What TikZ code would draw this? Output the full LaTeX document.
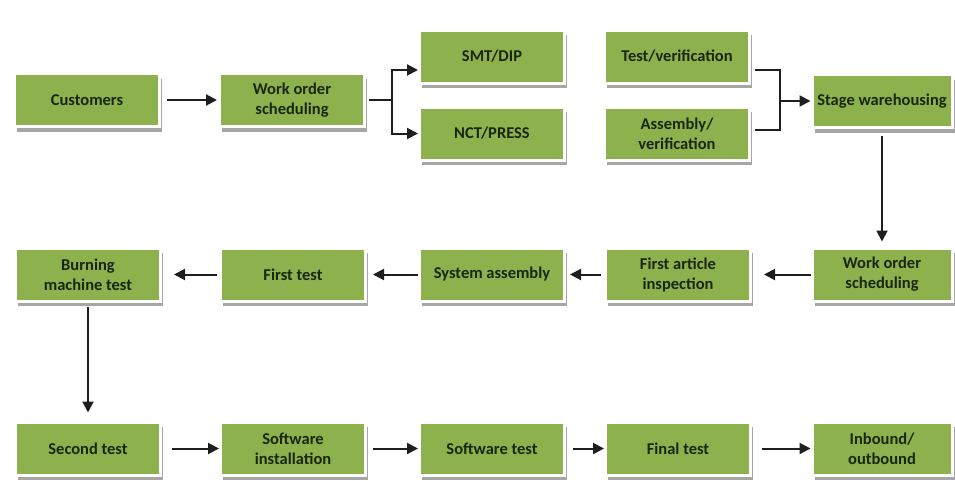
\documentclass[tikz,border=0pt]{standalone}
\usepackage{fontspec}
\setmainfont{Carlito}
\usetikzlibrary{arrows.meta,shadows}
\definecolor{boxgreen}{HTML}{8DB24D}
\definecolor{txtc}{HTML}{1A2610}
\definecolor{linec}{HTML}{1E1E1E}
\begin{document}
\begin{tikzpicture}[x=1pt,y=-1pt,
  box/.style={fill=boxgreen, draw=white, line width=3pt, minimum width=145pt, minimum height=53pt,
    inner sep=0pt, align=center, font=\fontsize{16.5}{20}\selectfont\bfseries, text=txtc,
    drop shadow={shadow xshift=2.5pt, shadow yshift=-5pt, fill=black!35, opacity=1}},
  lastbox/.style={box, minimum width=140pt},
  conn/.style={draw=linec, line width=2pt},
  arr/.style={conn, -{Triangle[length=11pt,width=11pt]}}]
\useasboundingbox (0,0) rectangle (955,480);
% row 1
\node[box] (cust) at (87,100) {Customers};
\node[box] (wos1) at (292,100) {Work order\\scheduling};
\node[box] (smt) at (492,56.5) {SMT/DIP};
\node[box] (nct) at (492,133.5) {NCT/PRESS};
\node[box] (testv) at (677,56.5) {Test/verification};
\node[box] (asmv) at (677,133.5) {Assembly/\\verification};
\node[lastbox] (stage) at (882,101) {Stage warehousing};
% row 2
\node[box] (burn) at (88,274.5) {Burning\\machine test};
\node[box] (first) at (293,274.5) {First test};
\node[box] (sysa) at (492,274.5) {System assembly};
\node[box] (fai) at (678,274.5) {First article\\inspection};
\node[lastbox] (wos2) at (882,274.5) {Work order\\scheduling};
% row 3
\node[box] (second) at (88,448.5) {Second test};
\node[box] (swinst) at (293,448.5) {Software\\installation};
\node[box] (swtest) at (492,448.5) {Software test};
\node[box] (final) at (678,448.5) {Final test};
\node[lastbox] (inout) at (882,448.5) {Inbound/\\outbound};
% connectors row 1
\draw[arr, shorten <=6pt, shorten >=1pt] (cust) -- (wos1);
\coordinate (s1) at (392,100);
\draw[conn, shorten <=3pt] (wos1.east) -- (s1);
\draw[arr] (s1) |- ([yshift=-13.5pt]smt.west);
\draw[arr] (s1) |- (nct.west);
\coordinate (j1) at (780,101);
\draw[conn] ([xshift=4pt,yshift=-13.5pt]testv.east) -| (j1);
\draw[conn] ([xshift=4pt,yshift=3.5pt]asmv.east) -| (j1);
\draw[arr] (j1) -- (stage.west);
\draw[arr, shorten <=7pt, shorten >=5pt] (stage) -- (wos2);
% row 2
\draw[arr, shorten >=12pt] (wos2) -- (fai);
\draw[arr, shorten <=3pt, shorten >=4pt] (fai) -- (sysa);
\draw[arr, shorten >=6pt] (sysa) -- (first);
\draw[arr, shorten <=2pt, shorten >=12pt] (first) -- (burn);
\draw[arr, shorten <=4pt, shorten >=8pt] (burn) -- (second);
% row 3
\draw[arr, shorten <=10pt] (second) -- (swinst);
\draw[arr, shorten <=6pt] (swinst) -- (swtest);
\draw[arr, shorten <=7pt] (swtest) -- (final);
\draw[arr, shorten <=10pt] (final) -- (inout);
\end{tikzpicture}
\end{document}
